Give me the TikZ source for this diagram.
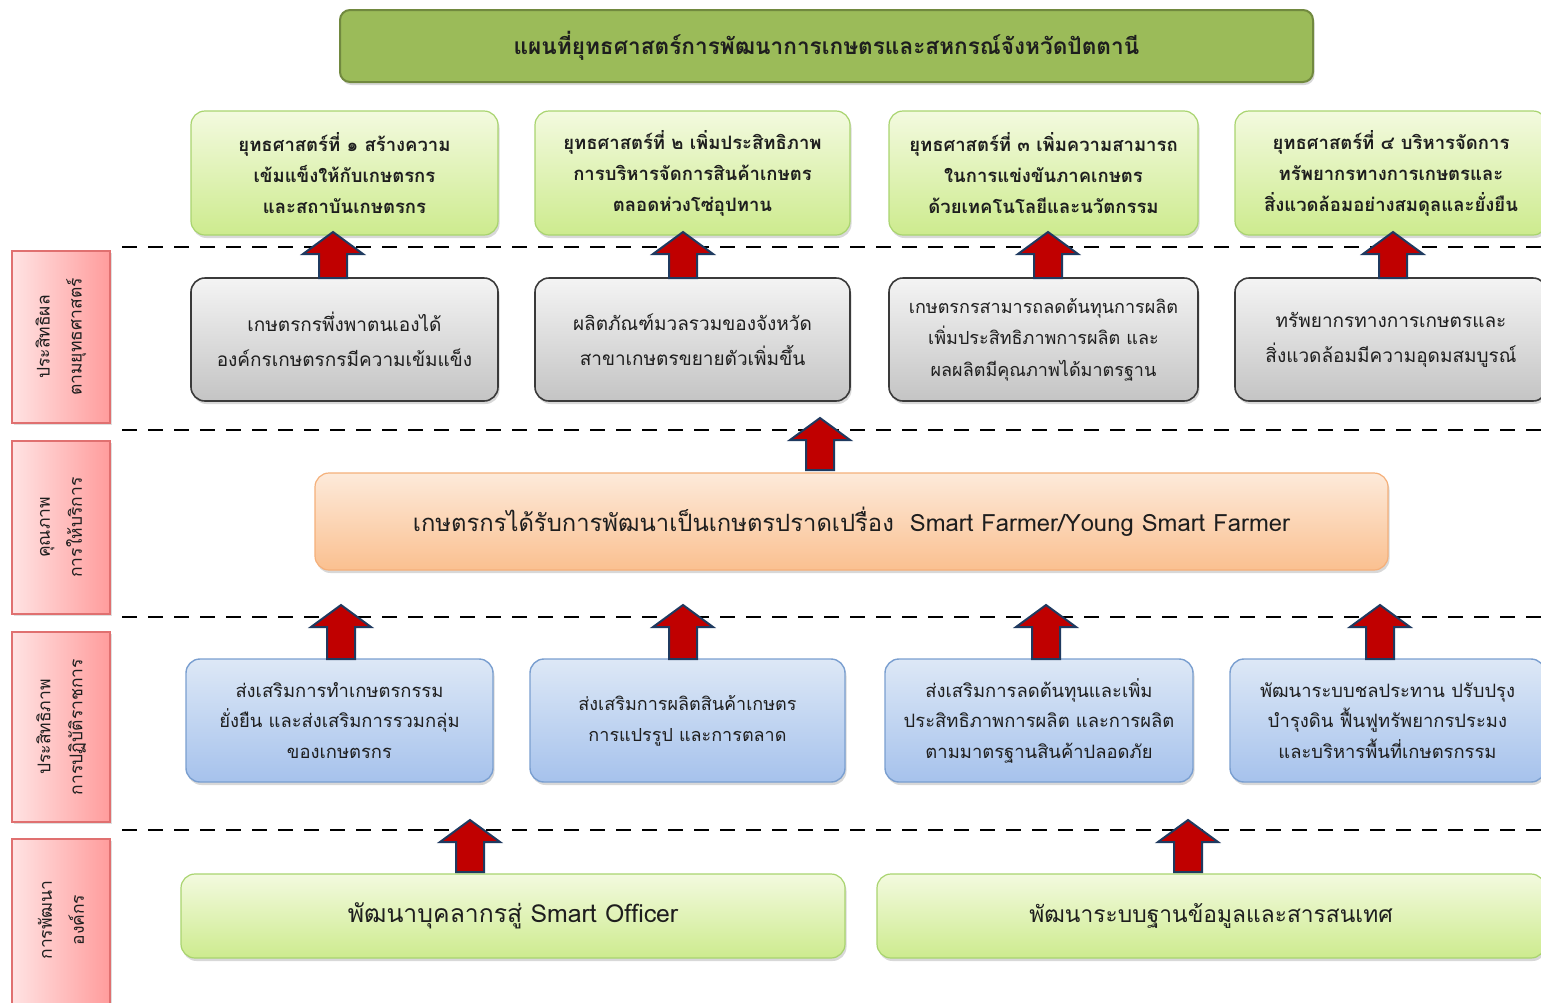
\documentclass[tikz,border=0pt]{standalone}
\usepackage{fontspec}
\setmainfont[Script=Thai]{Loma}
\usetikzlibrary{shadows}
\definecolor{titlegreen}{HTML}{9BBB59}
\definecolor{titleborder}{HTML}{71893F}
\definecolor{sgtop}{HTML}{F3FADF}
\definecolor{sgbot}{HTML}{CDEB8E}
\definecolor{sgborder}{HTML}{A9D46F}
\definecolor{grtop}{HTML}{F4F4F4}
\definecolor{grbot}{HTML}{C4C4C4}
\definecolor{grborder}{HTML}{3A3A3A}
\definecolor{ortop}{HTML}{FDEADA}
\definecolor{orbot}{HTML}{FAC090}
\definecolor{orborder}{HTML}{F5B07A}
\definecolor{bltop}{HTML}{DDE8F6}
\definecolor{blbot}{HTML}{A6C2EC}
\definecolor{blborder}{HTML}{7A9FD0}
\definecolor{pkleft}{HTML}{FFE3E3}
\definecolor{pkright}{HTML}{FF9C9C}
\definecolor{pkborder}{HTML}{E07070}
\definecolor{arrfill}{HTML}{C00000}
\definecolor{arrborder}{HTML}{1F3A60}
\definecolor{txtdark}{HTML}{1E1E1E}
\newcommand\redarrow[2]{\draw[redarr] ([shift={(-14,#2)}]#1) -- ([shift={(-14,22)}]#1) -- ([shift={(-30,22)}]#1) -- (#1) -- ([shift={(30,22)}]#1) -- ([shift={(14,22)}]#1) -- ([shift={(14,#2)}]#1) -- cycle;}
\tikzset{
  box/.style={rounded corners=14pt, align=center, inner sep=0pt, text=txtdark,
    drop shadow={opacity=0.3, shadow xshift=1.5pt, shadow yshift=-3pt}},
  titlebox/.style={box, draw=titleborder, line width=2pt, fill=titlegreen, rounded corners=10pt,
    font=\bfseries\fontsize{22.6}{26}\selectfont},
  strat/.style={box, draw=sgborder, line width=1.2pt, top color=sgtop, bottom color=sgbot,
    font=\bfseries\fontsize{18.5}{31}\selectfont},
  resultbox/.style={box, draw=grborder, line width=1.6pt, top color=grtop, bottom color=grbot,
    font=\fontsize{19}{35}\selectfont},
  servicebox/.style={box, draw=orborder, line width=1.2pt, top color=ortop, bottom color=orbot,
    font=\fontsize{23.8}{28}\selectfont},
  opbox/.style={box, draw=blborder, line width=1.4pt, top color=bltop, bottom color=blbot,
    font=\fontsize{18.4}{30.5}\selectfont},
  orgbox/.style={box, draw=sgborder, line width=1.2pt, top color=sgtop, bottom color=sgbot,
    font=\fontsize{24.8}{28}\selectfont},
  sidelabel/.style={draw=pkborder, line width=1.2pt, left color=pkleft, right color=pkright,
    align=center, inner sep=0pt, text=txtdark,
    drop shadow={opacity=0.25, shadow xshift=1.5pt, shadow yshift=-2pt}},
  sidetext/.style={rotate=90, align=center, text=txtdark, font=\fontsize{17.5}{32}\selectfont},
  sep/.style={draw=black, line width=2.6pt, dash pattern=on 15pt off 11pt},
  redarr/.style={fill=arrfill, draw=arrborder, line width=2pt, line join=miter}
}
\begin{document}
\begin{tikzpicture}[x=1pt,y=-1pt]
\useasboundingbox (0,0) rectangle (1541,1002);
\fill[white] (0,0) rectangle (1541,1002);
% separators
\coordinate (d1a) at (122,247); \coordinate (d1b) at (1541,247);
\coordinate (d2a) at (122,430); \coordinate (d2b) at (1541,430);
\coordinate (d3a) at (122,617); \coordinate (d3b) at (1541,617);
\coordinate (d4a) at (122,830); \coordinate (d4b) at (1541,830);
\draw[sep] (d1a) -- (d1b);
\draw[sep] (d2a) -- (d2b);
\draw[sep] (d3a) -- (d3b);
\draw[sep] (d4a) -- (d4b);
% title
\node[titlebox, minimum width=973pt, minimum height=72pt] (title) at (826.5,46) {แผนที่ยุทธศาสตร์การพัฒนาการเกษตรและสหกรณ์จังหวัดปัตตานี};
% strategies
\node[strat, minimum width=307pt, minimum height=124pt] (s1) at (344.5,173) {ยุทธศาสตร์ที่ ๑ สร้างความ\\เข้มแข็งให้กับเกษตรกร\\และสถาบันเกษตรกร};
\node[strat, minimum width=315pt, minimum height=124pt] (s2) at (692.5,173) {ยุทธศาสตร์ที่ ๒ เพิ่มประสิทธิภาพ\\การบริหารจัดการสินค้าเกษตร\\ตลอดห่วงโซ่อุปทาน};
\node[strat, minimum width=309pt, minimum height=124pt] (s3) at (1043.5,173) {ยุทธศาสตร์ที่ ๓ เพิ่มความสามารถ\\ในการแข่งขันภาคเกษตร\\ด้วยเทคโนโลยีและนวัตกรรม};
\node[strat, minimum width=312pt, minimum height=124pt] (s4) at (1391,173) {ยุทธศาสตร์ที่ ๔ บริหารจัดการ\\ทรัพยากรทางการเกษตรและ\\สิ่งแวดล้อมอย่างสมดุลและยั่งยืน};
% results
\node[resultbox, minimum width=307pt, minimum height=123pt] (g1) at (344.5,339.5) {เกษตรกรพึ่งพาตนเองได้\\องค์กรเกษตรกรมีความเข้มแข็ง};
\node[resultbox, minimum width=315pt, minimum height=123pt] (g2) at (692.5,339.5) {ผลิตภัณฑ์มวลรวมของจังหวัด\\สาขาเกษตรขยายตัวเพิ่มขึ้น};
\node[resultbox, minimum width=309pt, minimum height=123pt, font=\fontsize{18}{31.5}\selectfont] (g3) at (1043.5,339.5) {เกษตรกรสามารถลดต้นทุนการผลิต\\เพิ่มประสิทธิภาพการผลิต และ\\ผลผลิตมีคุณภาพได้มาตรฐาน};
\node[resultbox, minimum width=312pt, minimum height=123pt] (g4) at (1391,339.5) {ทรัพยากรทางการเกษตรและ\\สิ่งแวดล้อมมีความอุดมสมบูรณ์};
% service
\node[servicebox, minimum width=1073pt, minimum height=97pt] (o1) at (851.5,521.5) {เกษตรกรได้รับการพัฒนาเป็นเกษตรปราดเปรื่อง\ \ Smart Farmer/Young Smart Farmer};
% operations
\node[opbox, minimum width=307pt, minimum height=123pt] (b1) at (339.5,720.5) {ส่งเสริมการทำเกษตรกรรม\\ยั่งยืน และส่งเสริมการรวมกลุ่ม\\ของเกษตรกร};
\node[opbox, minimum width=315pt, minimum height=123pt, font=\fontsize{18}{31}\selectfont] (b2) at (687.5,720.5) {ส่งเสริมการผลิตสินค้าเกษตร\\การแปรรูป และการตลาด};
\node[opbox, minimum width=308pt, minimum height=123pt] (b3) at (1039,720.5) {ส่งเสริมการลดต้นทุนและเพิ่ม\\ประสิทธิภาพการผลิต และการผลิต\\ตามมาตรฐานสินค้าปลอดภัย};
\node[opbox, minimum width=315pt, minimum height=123pt] (b4) at (1387.5,720.5) {พัฒนาระบบชลประทาน ปรับปรุง\\บำรุงดิน ฟื้นฟูทรัพยากรประมง\\และบริหารพื้นที่เกษตรกรรม};
% organisation
\node[orgbox, minimum width=664pt, minimum height=84pt] (o2) at (513,916) {พัฒนาบุคลากรสู่ Smart Officer};
\node[orgbox, minimum width=668pt, minimum height=84pt, font=\fontsize{22.8}{28}\selectfont] (o3) at (1211,916) {พัฒนาระบบฐานข้อมูลและสารสนเทศ};
% side labels
\node[sidelabel, minimum width=98pt, minimum height=172pt] (l1) at (61,337) {};
\node[sidetext] (l1t) at (l1.center) {ประสิทธิผล\\ตามยุทธศาสตร์};
\node[sidelabel, minimum width=98pt, minimum height=173pt] (l2) at (61,527.5) {};
\node[sidetext] (l2t) at (l2.center) {คุณภาพ\\การให้บริการ};
\node[sidelabel, minimum width=98pt, minimum height=190pt] (l3) at (61,727) {};
\node[sidetext] (l3t) at (l3.center) {ประสิทธิภาพ\\การปฏิบัติราชการ};
\node[sidelabel, minimum width=98pt, minimum height=175pt] (l4) at (61,926.5) {};
\node[sidetext] (l4t) at (61,920) {การพัฒนา\\องค์กร};
% arrows
\coordinate (t1) at (333,232); \coordinate (t2) at (683,232);
\coordinate (t3) at (1048,232); \coordinate (t4) at (1393,232);
\redarrow{t1}{46} \redarrow{t2}{46} \redarrow{t3}{46} \redarrow{t4}{46}
\coordinate (t5) at (820,418);
\redarrow{t5}{52}
\coordinate (t6) at (341,605); \coordinate (t7) at (683,605);
\coordinate (t8) at (1046,605); \coordinate (t9) at (1380,605);
\redarrow{t6}{54} \redarrow{t7}{54} \redarrow{t8}{54} \redarrow{t9}{54}
\coordinate (t10) at (470,820); \coordinate (t11) at (1188,820);
\redarrow{t10}{52} \redarrow{t11}{52}
\end{tikzpicture}
\end{document}
